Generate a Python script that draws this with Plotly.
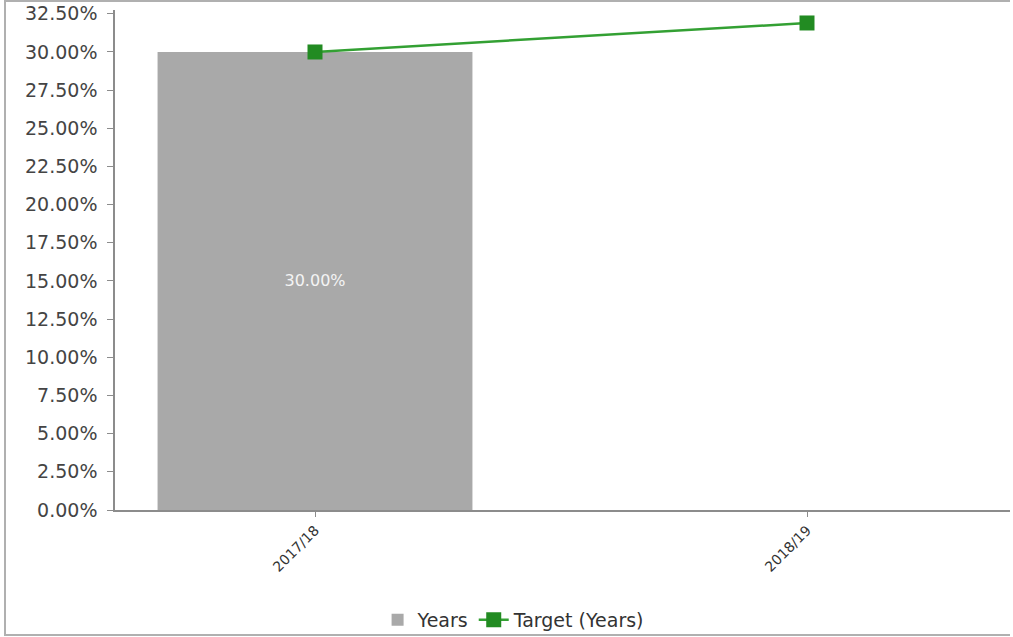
import plotly.graph_objects as go

categories = ["2017/18", "2018/19"]
years_values = [0.30, None]
target_values = [0.30, 0.319]
bar_labels = ["30.00%", ""]

fig = go.Figure()
fig.add_trace(go.Bar(
    x=categories, y=years_values, name="Years",
    marker=dict(color="#a9a9a9", line=dict(width=0)),
    width=0.64,
    text=bar_labels, textposition="inside", insidetextanchor="middle",
    textfont=dict(color="#f4f4f4", size=16, family="DejaVu Sans"),
    cliponaxis=False,
))
fig.add_trace(go.Scatter(
    x=categories, y=target_values, name="Target (Years)",
    mode="lines+markers",
    line=dict(color="#33a033", width=2.5),
    marker=dict(symbol="square", size=15, color="#228b22"),
))

fig.update_layout(
    width=1013, height=637,
    margin=dict(l=115, r=3, t=10, b=127),
    paper_bgcolor="white", plot_bgcolor="white",
    font=dict(family="DejaVu Sans", color="#444444"),
    showlegend=True,
    legend=dict(
        orientation="h", xref="container", yref="container",
        x=0.507, xanchor="center", y=0.027, yanchor="middle",
        font=dict(size=19, color="#333333"),
        bgcolor="rgba(0,0,0,0)",
        itemwidth=30, traceorder="normal",
    ),
)
fig.update_yaxes(
    range=[0, 0.3275], tickvals=[i * 0.025 for i in range(14)],
    tickformat=".2%", showgrid=False, zeroline=False,
    showline=True, linecolor="#8c8c8c", linewidth=1.5,
    ticks="outside", ticklen=6, tickcolor="#8c8c8c",
    ticklabelstandoff=6,
    tickfont=dict(size=19, color="#444444"),
)
fig.update_xaxes(
    range=[-0.4065, 1.4126], showgrid=False, zeroline=False,
    showline=True, linecolor="#8c8c8c", linewidth=1.5,
    ticks="outside", ticklen=5, tickcolor="#8c8c8c",
    tickangle=-45, tickfont=dict(size=14, color="#333333"),
)
# chart frame (left, top, bottom edges)
fig.add_shape(type="path", xref="paper", yref="paper",
              path="M 1.0,%f L %f,%f L %f,%f L 1.0,%f" % (
                  -125 / 500.0,
                  (5 - 115) / 895.0, -125 / 500.0,
                  (5 - 115) / 895.0, 509 / 500.0,
                  509 / 500.0),
              line=dict(color="#b0b0b0", width=2), layer="below")

fig.write_html("out.html")
